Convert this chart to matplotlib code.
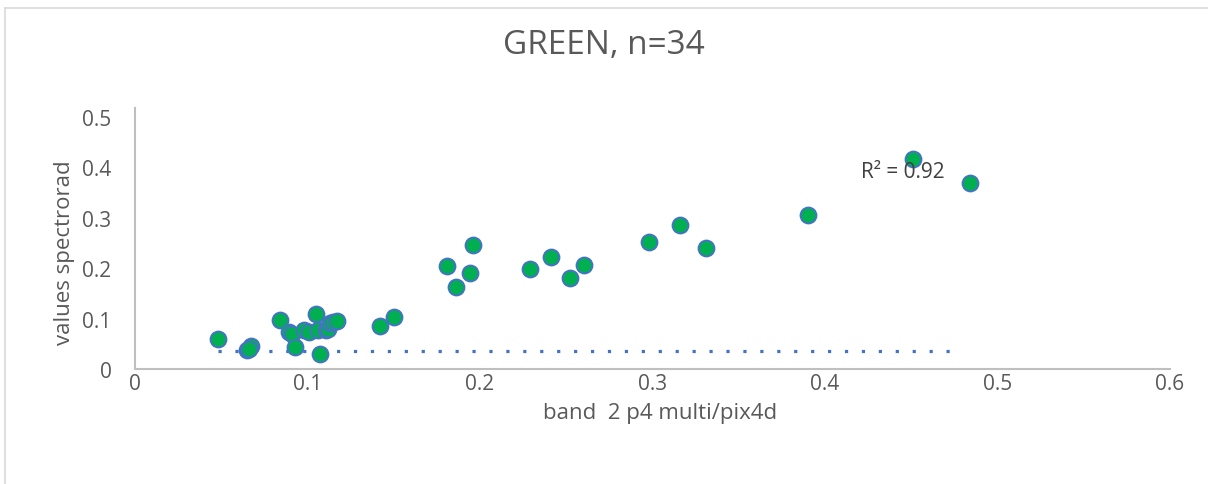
# GREEN band scatter: spectroradiometer vs pix4d, Excel-style chart
import matplotlib
matplotlib.use("Agg")
import matplotlib.pyplot as plt
from matplotlib.lines import Line2D

plt.rcParams['font.family'] = ['Open Sans', 'DejaVu Sans']

# Data (34 points, a few overlap).
band2_pix4d = [0.048, 0.065, 0.067, 0.066, 0.084, 0.089, 0.091, 0.093, 0.098, 0.101,
               0.105, 0.106, 0.107, 0.111, 0.112, 0.113, 0.115, 0.117, 0.142, 0.150,
               0.181, 0.186, 0.194, 0.196, 0.229, 0.241, 0.252, 0.260, 0.298, 0.316,
               0.331, 0.390, 0.451, 0.484]
spectrorad = [0.060, 0.037, 0.045, 0.040, 0.098, 0.073, 0.069, 0.044, 0.077, 0.073,
              0.110, 0.077, 0.030, 0.078, 0.079, 0.091, 0.094, 0.095, 0.086, 0.104,
              0.204, 0.163, 0.191, 0.247, 0.199, 0.222, 0.181, 0.206, 0.252, 0.285,
              0.241, 0.306, 0.416, 0.369]

trend_x = [0.048, 0.478]
trend_y = [0.036, 0.036]

x_ticks = [0, 0.1, 0.2, 0.3, 0.4, 0.5, 0.6]
y_ticks = [0, 0.1, 0.2, 0.3, 0.4, 0.5]

W, H = 1208, 485
fig = plt.figure(figsize=(W / 100, H / 100), dpi=100)
ax = fig.add_axes([135 / W, 1 - 370 / H, (1170 - 135) / W, (370 - 109) / H])

# chart area border (light gray)
fig.add_artist(Line2D([5 / W, 1], [1 - 9 / H, 1 - 9 / H], color='#d9d9d9', lw=1.2))
fig.add_artist(Line2D([5 / W, 5 / W], [0, 1 - 9 / H], color='#d9d9d9', lw=1.2))

ax.plot(trend_x, trend_y, color='#4472C4', lw=2.3, linestyle=(0, (1, 4.3)),
        dash_capstyle='butt', zorder=2)
ax.scatter(band2_pix4d, spectrorad, s=130, color='#00B050',
           edgecolor='#4472C4', linewidth=1.4, zorder=3)

ax.set_xlim(0, 0.6)
ax.set_ylim(0, 0.518)
ax.set_xticks(x_ticks)
ax.set_xticklabels(['0', '0.1', '0.2', '0.3', '0.4', '0.5', '0.6'])
ax.set_yticks(y_ticks)
ax.set_yticklabels(['0', '0.1', '0.2', '0.3', '0.4', '0.5'])
ax.tick_params(length=0, labelsize=15, colors='#595959')
ax.tick_params(axis='y', pad=17)
ax.tick_params(axis='x', pad=3)

for s in ['top', 'right']:
    ax.spines[s].set_visible(False)
for s in ['left', 'bottom']:
    ax.spines[s].set_color('#bfbfbf')
    ax.spines[s].set_linewidth(1.5)

ax.set_xlabel('band  2 p4 multi/pix4d', fontsize=16, color='#595959')
ax.xaxis.set_label_coords(0.507, -0.125)
ax.set_ylabel('values spectrorad', fontsize=16, color='#595959')
ax.yaxis.set_label_coords(-0.058, 0.45)

ax.text(0.421, 0.391, 'R² = 0.92', fontsize=15, color='#404040', va='center', zorder=4)

fig.text(0.5, 1 - 45 / H, 'GREEN, n=34', ha='center', va='center', fontsize=24, color='#595959')

fig.savefig('out.png', dpi=100)
